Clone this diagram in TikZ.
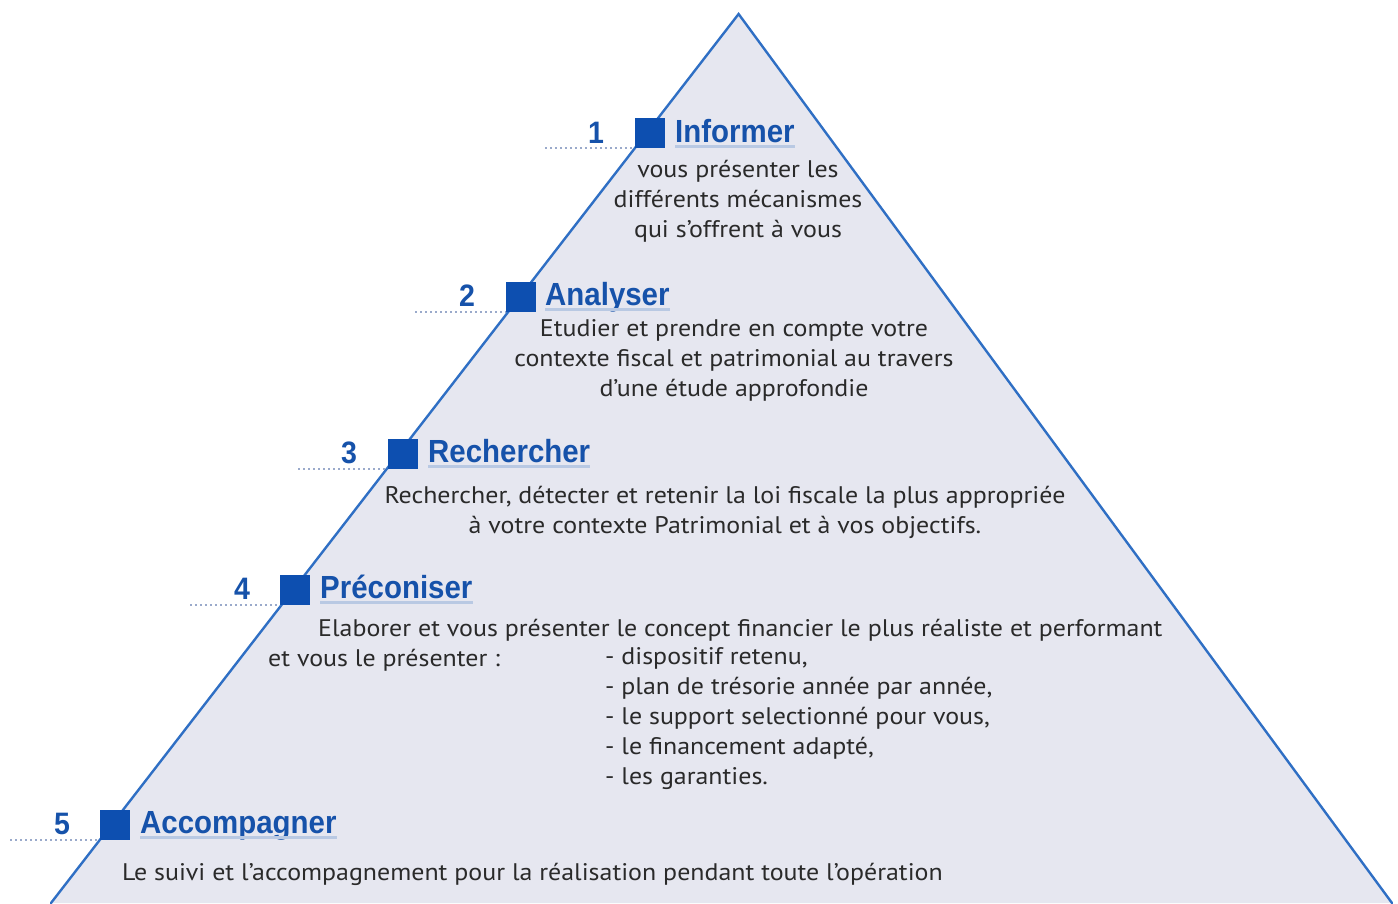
\documentclass[tikz,border=0pt]{standalone}
\usepackage{fontspec}
\setmainfont[FakeStretch=1.08]{PT Sans}
\newfontfamily\headfont[FakeStretch=0.92]{Liberation Sans}
\definecolor{pyrfill}{HTML}{E6E7F0}
\definecolor{pyrline}{HTML}{2F6FC4}
\definecolor{sqblue}{HTML}{0D4FB0}
\definecolor{headblue}{HTML}{1652AA}
\definecolor{dotcol}{HTML}{9AAACB}
\definecolor{ulcol}{HTML}{B9C9E3}
\definecolor{txt}{HTML}{2A2A2A}
\tikzset{
  pyredge/.style={draw=pyrline, line width=2.4pt, line cap=round},
  stepsq/.style={fill=sqblue, draw=none, minimum width=30pt, minimum height=30pt, inner sep=0pt, anchor=south west},
  heading/.style={font=\headfont\bfseries\fontsize{32}{34}\selectfont, text=headblue, inner sep=0pt, anchor=base west},
  stepnum/.style={font=\headfont\bfseries\fontsize{31}{34}\selectfont, text=headblue, inner sep=0pt, anchor=base},
  dotline/.style={draw=dotcol, line width=2pt, dash pattern=on 2pt off 3pt},
  uline/.style={draw=ulcol, line width=3pt},
  body/.style={font=\fontsize{24}{30}\selectfont, text=txt, inner sep=0pt, align=center},
  bodyl/.style={font=\fontsize{24}{30}\selectfont, text=txt, inner sep=0pt, align=left},
}
\begin{document}
\begin{tikzpicture}[x=1pt,y=-1pt]
\useasboundingbox (0,0) rectangle (1398,903);
% pyramid
\coordinate (apex) at (738.6,14);
\coordinate (bl) at (51,903);
\coordinate (br) at (1392,903);
\fill[pyrfill] (apex) -- (bl) -- (br) -- cycle;
\draw[pyredge] (bl) -- (apex) -- (br);

% ---------- level 1
\coordinate (c1) at (635,148);
\coordinate (d1) at (545,148);
\draw[dotline] (d1) -- (c1);
\node[stepsq] (s1) at (c1) {};
\node[stepnum] (n1) at (596,143) {1};
\node[heading] (h1) at (675,142) {Informer};
\draw[uline] ([yshift=-4pt]h1.base west) -- ([yshift=-4pt]h1.base east);
\node[body, anchor=north] (t1) at (738,160) {vous présenter les\\différents mécanismes\\qui s’offrent à vous};

% ---------- level 2
\coordinate (c2) at (506,312);
\coordinate (d2) at (415,312);
\draw[dotline] (d2) -- (c2);
\node[stepsq] (s2) at (c2) {};
\node[stepnum] (n2) at (467,306) {2};
\node[heading] (h2) at (545,305) {Analyser};
\draw[uline] ([yshift=-4pt]h2.base west) -- ([yshift=-4pt]h2.base east);
\node[body, anchor=north] (t2) at (734,319) {Etudier et prendre en compte votre\\contexte fiscal et patrimonial au travers\\d’une étude approfondie};

% ---------- level 3
\coordinate (c3) at (388,469);
\coordinate (d3) at (298,469);
\draw[dotline] (d3) -- (c3);
\node[stepsq] (s3) at (c3) {};
\node[stepnum] (n3) at (349,463) {3};
\node[heading] (h3) at (428,462) {Rechercher};
\draw[uline] ([yshift=-4pt]h3.base west) -- ([yshift=-4pt]h3.base east);
\node[body, anchor=north] (t3) at (725,486) {Rechercher, détecter et retenir la loi fiscale la plus appropriée\\à votre contexte Patrimonial et à vos objectifs.};

% ---------- level 4
\coordinate (c4) at (280,605);
\coordinate (d4) at (190,605);
\draw[dotline] (d4) -- (c4);
\node[stepsq] (s4) at (c4) {};
\node[stepnum] (n4) at (242,599) {4};
\node[heading] (h4) at (320,598) {Préconiser};
\draw[uline] ([yshift=-4pt]h4.base west) -- ([yshift=-4pt]h4.base east);
\node[bodyl, anchor=base west] (t4a) at (318,636) {Elaborer et vous présenter le concept financier le plus réaliste et performant};
\node[bodyl, anchor=base west] (t4b) at (268,666) {et vous le présenter :};
\node[bodyl, anchor=north west] (t4c) at (605,647) {- dispositif retenu,\\- plan de trésorie année par année,\\- le support selectionné pour vous,\\- le financement adapté,\\- les garanties.};

% ---------- level 5
\coordinate (c5) at (100,840);
\coordinate (d5) at (10,840);
\draw[dotline] (d5) -- (c5);
\node[stepsq] (s5) at (c5) {};
\node[stepnum] (n5) at (62,834) {5};
\node[heading] (h5) at (140,833) {Accompagner};
\draw[uline] ([yshift=-4pt]h5.base west) -- ([yshift=-4pt]h5.base east);
\node[bodyl, anchor=base west] (t5) at (122,880) {Le suivi et l’accompagnement pour la réalisation pendant toute l’opération};
\end{tikzpicture}
\end{document}
